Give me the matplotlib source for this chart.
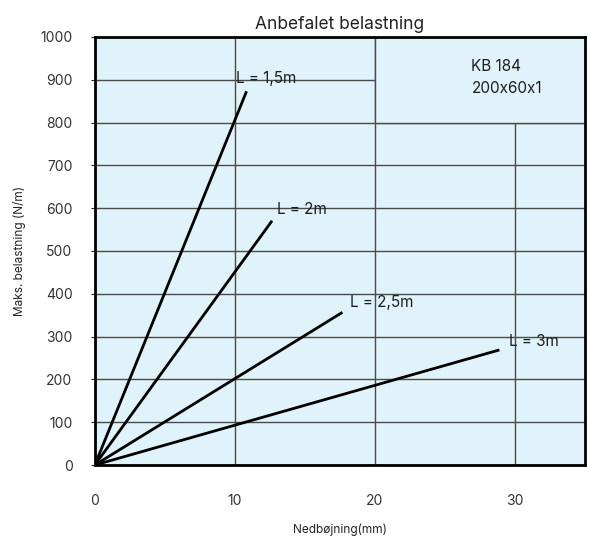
import matplotlib
matplotlib.use("Agg")
import matplotlib.pyplot as plt
from matplotlib.patches import Rectangle

plt.rcParams['font.family'] = ['Inter', 'DejaVu Sans']

# Data
series_labels = ["L = 1,5m", "L = 2m", "L = 2,5m", "L = 3m"]
end_x = [10.8, 12.6, 17.6, 28.8]
end_y = [870, 568, 355, 268]
label_x = [10.1, 13.0, 18.2, 29.6]
label_y = [903, 598, 380, 288]

x_ticks = [0, 10, 20, 30]
y_ticks = list(range(0, 1001, 100))

fig = plt.figure(figsize=(5.89, 5.43), dpi=100)
ax = fig.add_axes([0.161, 0.1436, 0.832, 0.7884])
ax.set_facecolor("#e1f3fa")

ax.set_xlim(0, 35)
ax.set_ylim(0, 1000)
ax.set_xticks(x_ticks)
ax.set_yticks(y_ticks)
ax.grid(True, color="#4a4a4a", linewidth=1, zorder=1)
ax.set_axisbelow(True)

# box for the product label hides the grid in the top right corner
ax.add_patch(Rectangle((20, 800), 15, 200, facecolor="#e1f3fa",
                       edgecolor="#4a4a4a", linewidth=1, zorder=1.5))

for lx, ly, ex, ey, txt in zip(label_x, label_y, end_x, end_y, series_labels):
    ax.plot([0, ex], [0, ey], color="black", linewidth=2, zorder=3)
    ax.text(lx, ly, txt, fontsize=11, ha="left", va="center",
            color="#1e1e1e", zorder=4)

ax.text(26.9, 932, "KB 184", fontsize=11, ha="left", va="center", color="#1e1e1e")
ax.text(26.9, 880, "200x60x1", fontsize=11, ha="left", va="center", color="#1e1e1e")

for s in ax.spines.values():
    s.set_linewidth(2)
    s.set_color("black")

ax.tick_params(axis="x", length=0, pad=21, labelsize=10, colors="#333333")
ax.tick_params(axis="y", length=3, pad=13, labelsize=10, colors="#333333")
ax.tick_params(axis="y", color="#222222")

ax.set_title("Anbefalet belastning", fontsize=12.5, color="#222222", pad=6)
ax.set_xlabel("Nedbøjning(mm)", fontsize=8.5, color="#222222", labelpad=11)
ax.set_ylabel("Maks. belastning (N/m)", fontsize=8.5, color="#222222", labelpad=10)

fig.savefig("out.png", dpi=100)
